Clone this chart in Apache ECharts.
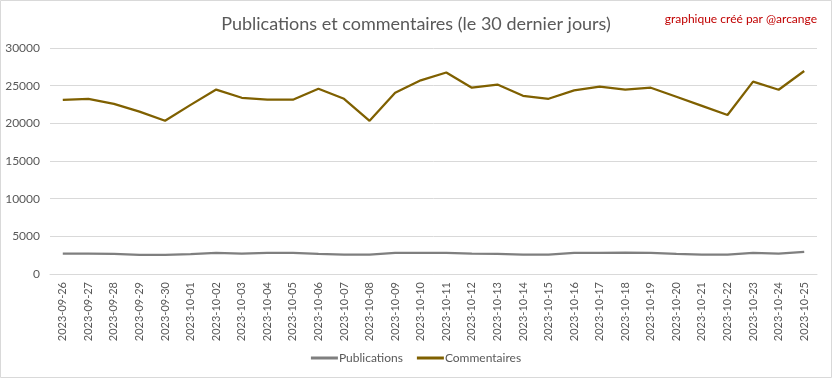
<!DOCTYPE html>
<html>
<head>
<meta charset="utf-8">
<script src="https://cdn.jsdelivr.net/npm/echarts@6/dist/echarts.min.js"></script>
<style>
html,body{margin:0;padding:0;background:#fff;}
#c{width:832px;height:378px;}
</style>
</head>
<body>
<div id="c"></div>
<script>
const categories = ["2023-09-26","2023-09-27","2023-09-28","2023-09-29","2023-09-30","2023-10-01","2023-10-02","2023-10-03","2023-10-04","2023-10-05","2023-10-06","2023-10-07","2023-10-08","2023-10-09","2023-10-10","2023-10-11","2023-10-12","2023-10-13","2023-10-14","2023-10-15","2023-10-16","2023-10-17","2023-10-18","2023-10-19","2023-10-20","2023-10-21","2023-10-22","2023-10-23","2023-10-24","2023-10-25"];
const publications = [2700,2700,2680,2550,2550,2650,2820,2720,2820,2820,2680,2560,2560,2800,2820,2820,2700,2680,2560,2560,2820,2820,2840,2820,2680,2560,2560,2820,2700,2950];
const commentaires = [23120,23260,22590,21560,20350,22450,24480,23390,23140,23140,24600,23260,20330,24060,25710,26750,24730,25150,23660,23260,24370,24870,24460,24730,23530,22320,21110,25540,24460,26950];
const yTicks = [0,5000,10000,15000,20000,25000,30000];

const chart = echarts.init(document.getElementById('c'), null, {renderer:'canvas'});
const FONT = 'Lato';
chart.setOption({
  animation:false,
  backgroundColor:'#ffffff',
  textStyle:{fontFamily:FONT},
  title:[{
    text:'Publications et commentaires (le 30 dernier jours)',
    left:'center', top:10,
    textStyle:{fontFamily:FONT,fontSize:18,fontWeight:'normal',color:'#595959'}
  },{
    text:'graphique créé par @arcange',
    right:10, top:8,
    textStyle:{fontFamily:FONT,fontSize:12,fontWeight:'normal',color:'#C00000'}
  }],
  legend:{
    bottom:9, left:'center',
    itemWidth:27, itemHeight:3, itemGap:14,
    icon:'rect',
    textStyle:{fontFamily:FONT,fontSize:12,color:'#595959',padding:[0,0,0,-4]},
    data:['Publications','Commentaires']
  },
  grid:{left:50,right:15,top:48,bottom:104,containLabel:false},
  xAxis:{
    type:'category',
    data:categories,
    boundaryGap:true,
    axisLine:{lineStyle:{color:'#D9D9D9'}},
    axisTick:{show:false},
    axisLabel:{interval:0,rotate:90,fontFamily:FONT,fontSize:11,color:'#595959',margin:8}
  },
  yAxis:{
    type:'value',
    min:yTicks[0], max:yTicks[yTicks.length-1], interval:5000,
    axisLine:{show:false},
    axisTick:{show:false},
    splitLine:{lineStyle:{color:'#D9D9D9'}},
    axisLabel:{fontFamily:FONT,fontSize:12,color:'#595959',margin:10,formatter:function(v){return String(v);}}
  },
  series:[{
    name:'Publications', type:'line', data:publications,
    symbol:'none', lineStyle:{width:2.25,color:'#7F7F7F'}, itemStyle:{color:'#7F7F7F'}
  },{
    name:'Commentaires', type:'line', data:commentaires,
    symbol:'none', lineStyle:{width:2.25,color:'#7F6000'}, itemStyle:{color:'#7F6000'}
  }],
  graphic:[{
    type:'rect', shape:{x:0.5,y:0.5,width:831,height:377},
    style:{fill:'none',stroke:'#D9D9D9',lineWidth:1}, silent:true
  }]
});
</script>
</body>
</html>
